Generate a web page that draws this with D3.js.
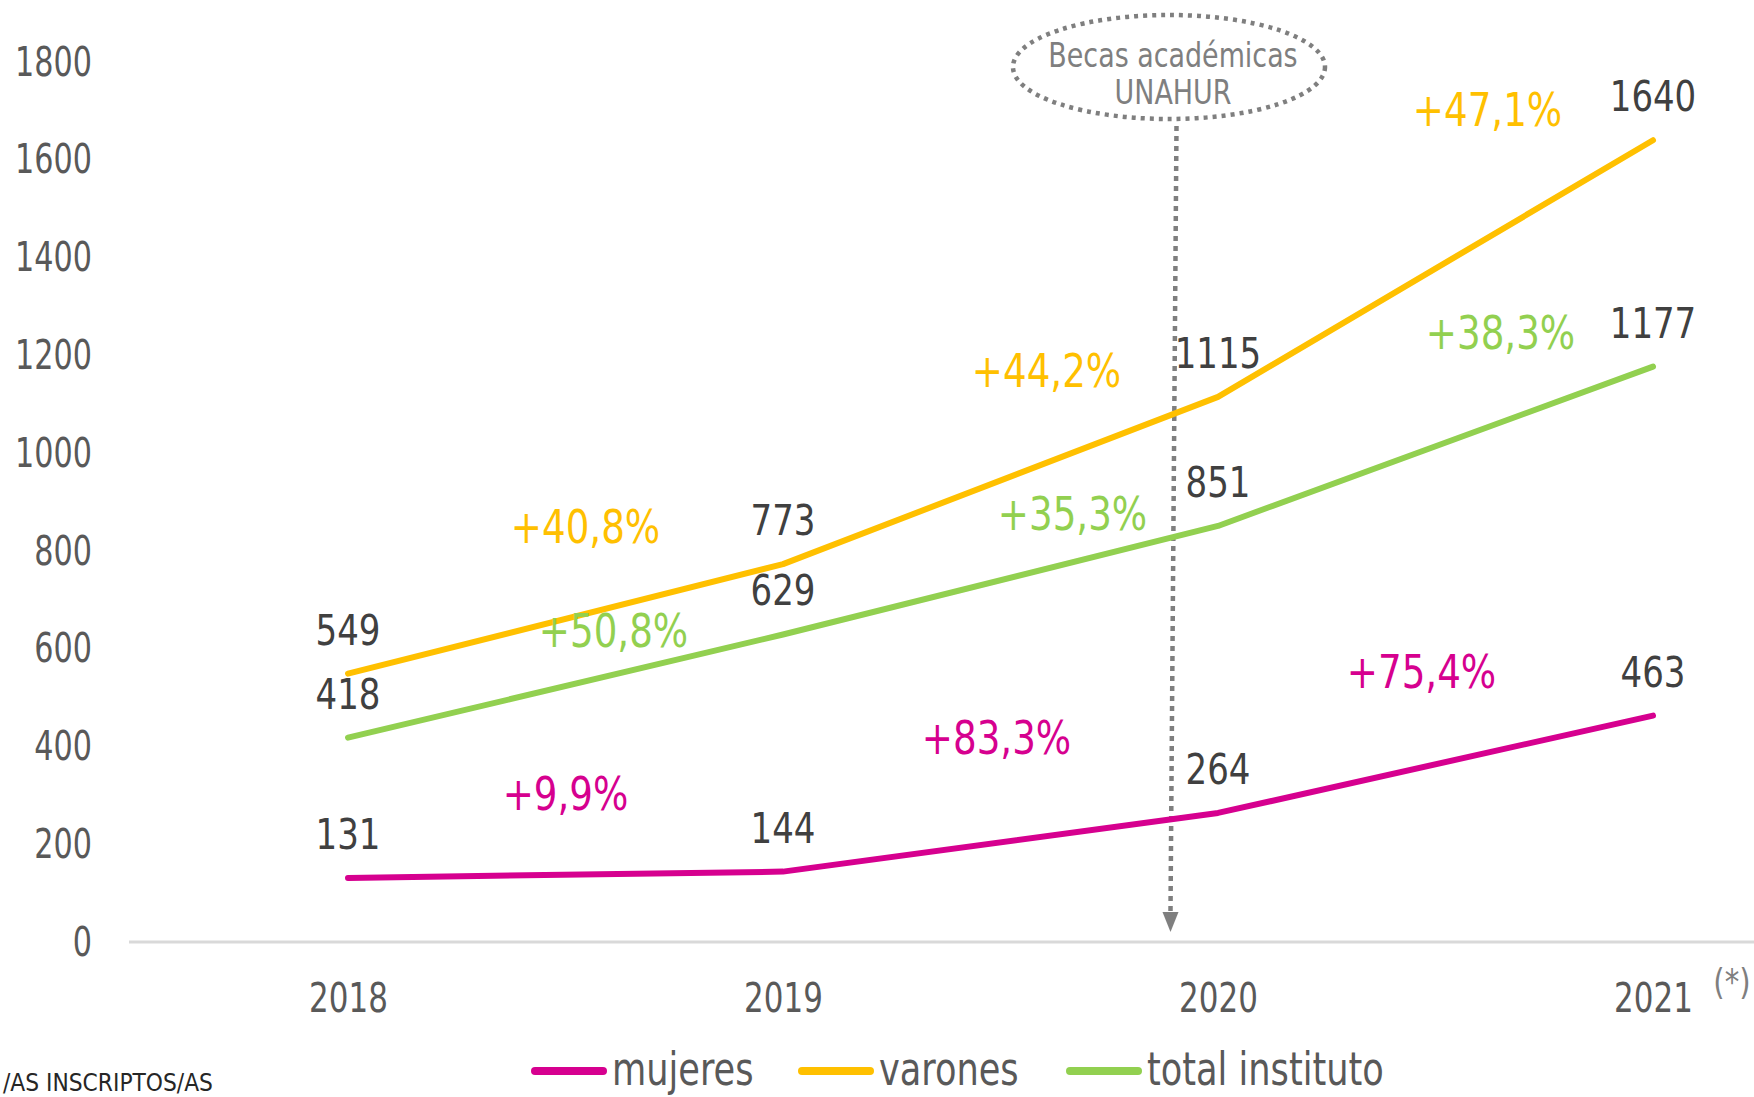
<!DOCTYPE html>
<html>
<head>
<meta charset="utf-8">
<script src="https://cdn.jsdelivr.net/npm/d3@7"></script>
<style>
  html, body { margin: 0; padding: 0; background: #fff; overflow: hidden; }
  svg { display: block; }
  text { font-family: "DejaVu Sans Condensed", "DejaVu Sans", sans-serif; }
</style>
</head>
<body>
<svg id="chart" width="1754" height="1097"></svg>
<script>
// ---------- data ----------
const years = ["2018", "2019", "2020", "2021"];
const mujeres = [131, 144, 264, 463];
const varones = [549, 773, 1115, 1640];
const totalInstituto = [418, 629, 851, 1177];
const pctMujeres = ["+9,9%", "+83,3%", "+75,4%"];
const pctVarones = ["+40,8%", "+44,2%", "+47,1%"];
const pctTotal = ["+50,8%", "+35,3%", "+38,3%"];
const yTicks = [0, 200, 400, 600, 800, 1000, 1200, 1400, 1600, 1800];
const seriesNames = ["mujeres", "varones", "total instituto"];
const annotationLines = ["Becas académicas", "UNAHUR"];
const annotationYearPos = 1.9;   // position along year index axis (between 2019 and 2020)
const footnoteText = "/AS INSCRIPTOS/AS";
const asteriskText = "(*)";

// ---------- layout / style ----------
const W = 1754, H = 1097;
const colors = ["#D6008F", "#FFC000", "#92D050"];
const svg = d3.select("#chart");

// horizontally condense text around its anchor to mimic a narrow DIN-like face
function condense(sel, f) {
  sel.each(function () {
    const t = d3.select(this);
    const tx = +t.attr("x") || 0, ty = +t.attr("y") || 0;
    t.attr("transform", `translate(${tx},${ty}) scale(${f},1) translate(${-tx},${-ty})`);
  });
}

const x = d3.scalePoint().domain(years).range([348, 1653]);
const xi = d3.scaleLinear().domain([0, 3]).range([348, 1653]);
const y = d3.scaleLinear().domain([0, 1800]).range([942, 62]);

// baseline
svg.append("line")
  .attr("x1", 129).attr("x2", W)
  .attr("y1", y(0)).attr("y2", y(0))
  .attr("stroke", "#D9D9D9").attr("stroke-width", 3);

// y axis
const yAxis = svg.append("g")
  .attr("transform", "translate(92,0)")
  .call(d3.axisLeft(y).tickValues(yTicks).tickSize(0).tickPadding(0).tickFormat(d3.format("d")));
yAxis.select(".domain").remove();
yAxis.selectAll("text")
  .attr("font-size", 41).attr("fill", "#595959")
  .style("font-family", '"DejaVu Sans Condensed", "DejaVu Sans", sans-serif')
  .call(condense, 0.82);

// x axis
const xAxis = svg.append("g")
  .attr("transform", `translate(0,${y(0)})`)
  .call(d3.axisBottom(x).tickSize(0).tickPadding(41));
xAxis.select(".domain").remove();
xAxis.selectAll("text")
  .attr("font-size", 41).attr("fill", "#595959")
  .style("font-family", '"DejaVu Sans Condensed", "DejaVu Sans", sans-serif')
  .call(condense, 0.84);

// (*) marker
svg.append("text")
  .attr("x", 1732).attr("y", 994)
  .attr("text-anchor", "middle")
  .attr("font-size", 36).attr("fill", "#7F7F7F")
  .text(asteriskText)
  .call(condense, 0.9);

// annotation: ellipse + dotted arrow
const annX = xi(annotationYearPos);
svg.append("line")
  .attr("x1", annX + 2).attr("x2", annX - 4)
  .attr("y1", 126).attr("y2", 912)
  .attr("stroke", "#7F7F7F").attr("stroke-width", 4.5)
  .attr("stroke-dasharray", "5 5");
svg.append("path")
  .attr("d", `M${annX - 12},912 L${annX + 4},912 L${annX - 4},932 Z`)
  .attr("fill", "#7F7F7F");

svg.append("ellipse")
  .attr("cx", 1169).attr("cy", 67).attr("rx", 156).attr("ry", 52)
  .attr("fill", "none").attr("stroke", "#7F7F7F").attr("stroke-width", 4.5)
  .attr("stroke-dasharray", "4 5");
svg.selectAll(".ann").data(annotationLines).enter().append("text")
  .attr("class", "ann")
  .attr("x", 1173).attr("y", (d, i) => 67 + i * 37)
  .attr("text-anchor", "middle")
  .attr("font-size", 34).attr("fill", "#7F7F7F")
  .text(d => d)
  .call(condense, 0.88);

// lines
const allSeries = [mujeres, varones, totalInstituto];
const line = d3.line().x((d, i) => x(years[i])).y(d => y(d));
const drawOrder = [2, 1, 0];
drawOrder.forEach(k => {
  svg.append("path")
    .datum(allSeries[k])
    .attr("d", line)
    .attr("fill", "none")
    .attr("stroke", colors[k])
    .attr("stroke-width", 6)
    .attr("stroke-linecap", "round")
    .attr("stroke-linejoin", "round");
});

// value labels
allSeries.forEach((s, k) => {
  svg.selectAll(".val" + k).data(s).enter().append("text")
    .attr("x", (d, i) => x(years[i]))
    .attr("y", d => y(d) - 29)
    .attr("text-anchor", "middle")
    .attr("font-size", 42).attr("fill", "#404040")
    .text(d => d)
    .call(condense, 0.9);
});

// percentage labels (offsets relative to segment midpoint)
const pctSets = [pctMujeres, pctVarones, pctTotal];
const pctDx = [[0, -4, -14], [20, 46, 52], [48, 72, 65]];
const pctDy = [[-82, -105, -93], [-93, -110, -160], [-56, -67, -114]];
pctSets.forEach((p, k) => {
  const s = allSeries[k];
  svg.selectAll(".pct" + k).data(p).enter().append("text")
    .attr("x", (d, i) => (x(years[i]) + x(years[i + 1])) / 2 + pctDx[k][i])
    .attr("y", (d, i) => y((s[i] + s[i + 1]) / 2) + pctDy[k][i] + 17)
    .attr("text-anchor", "middle")
    .attr("font-size", 47).attr("fill", colors[k])
    .text(d => d)
    .call(condense, 0.88);
});

// legend
const legendX = [535, 802, 1070];
seriesNames.forEach((n, k) => {
  svg.append("line")
    .attr("x1", legendX[k]).attr("x2", legendX[k] + 68)
    .attr("y1", 1071).attr("y2", 1071)
    .attr("stroke", colors[k]).attr("stroke-width", 8)
    .attr("stroke-linecap", "round");
  svg.append("text")
    .attr("x", legendX[k] + 77).attr("y", 1085)
    .attr("font-size", 46).attr("fill", "#595959")
    .text(n)
    .call(condense, 0.85);
});

// footnote
svg.append("text")
  .attr("x", 3).attr("y", 1091)
  .attr("font-size", 25).attr("fill", "#262626")
  .text(footnoteText)
  .call(condense, 0.97);
</script>
</body>
</html>
